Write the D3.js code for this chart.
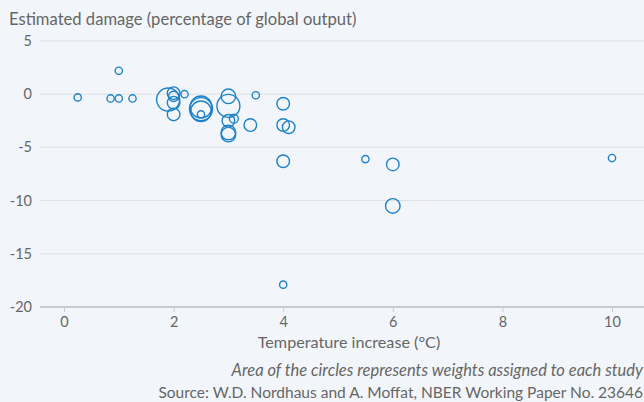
<!DOCTYPE html>
<html><head><meta charset="utf-8">
<script src="https://cdn.jsdelivr.net/npm/d3@7"></script>
<style>
html,body{margin:0;padding:0;background:#f2f6fa;}
svg{display:block;font-family:Lato,"Noto Sans",sans-serif;}
</style></head>
<body><svg id="c" width="644" height="402"></svg>
<script>
const temps   = [0.25,0.85,1.0,1.0,1.25,1.9,2.0,2.0,2.0,2.0,2.2,2.5,2.5,2.5,2.5,3.0,3.0,3.0,3.1,3.0,3.0,3.4,3.5,4.0,4.0,4.1,4.0,4.0,5.5,6.0,6.0,10.0];
const damages = [-0.3,-0.4,-0.4,2.2,-0.4,-0.5,0.1,-0.2,-0.8,-1.9,0.0,-1.2,-1.4,-1.6,-1.9,-0.2,-1.1,-2.5,-2.3,-3.6,-3.8,-2.9,-0.1,-0.9,-2.9,-3.1,-6.3,-17.9,-6.1,-6.6,-10.5,-6.0];
const weights = [1,1,1,1,1,10,3,2,3,3,1,9,10,8,1,4,10,3,1.5,4,4,3,1,3,3,3,3,1,1,3,4,1];
const xTicks = [0,2,4,6,8,10];
const yTicks = [5,0,-5,-10,-15,-20];

const svg = d3.select("#c");
const x = d3.scaleLinear().domain([0,10]).range([64,612]);
const y = d3.scaleLinear().domain([-20,5]).range([307,41]);
const r = d3.scaleSqrt().domain([0,10]).range([0,11.5]);
const txt = "#666";

svg.append("g").selectAll("line").data(yTicks.filter(d=>d!==-20)).join("line")
  .attr("x1",40).attr("x2",644).attr("y1",d=>y(d)).attr("y2",d=>y(d))
  .attr("stroke","#dcdfe3").attr("stroke-width",1);
svg.append("g").selectAll("text").data(yTicks).join("text")
  .attr("x",32).attr("y",d=>y(d)+5).attr("text-anchor","end")
  .attr("font-size",14.5).attr("fill",txt).text(d=>d);
const xa = svg.append("g").attr("transform","translate(0,307)")
  .call(d3.axisBottom(x).tickValues(xTicks).tickSize(5).tickPadding(5).tickFormat(d3.format("d")));
xa.select(".domain").remove();
xa.insert("line",":first-child").attr("x1",40).attr("x2",644).attr("stroke","#c8ccd0").attr("stroke-width",2);
xa.selectAll(".tick line").attr("stroke","#c8ccd0");
xa.selectAll(".tick text").attr("font-size",14.5).attr("fill",txt).attr("font-family","Lato,'Noto Sans',sans-serif");

const pts = temps.map((t,i)=>({t,d:damages[i],w:weights[i]}));
svg.append("g").selectAll("circle").data(pts).join("circle")
  .attr("cx",d=>x(d.t)).attr("cy",d=>y(d.d)).attr("r",d=>r(d.w))
  .attr("fill","none").attr("stroke","#1f82c6").attr("stroke-width",1.4);

svg.append("text").attr("x",9).attr("y",25).attr("font-size",16.6).attr("fill",txt)
  .text("Estimated damage (percentage of global output)");
svg.append("text").attr("x",349).attr("y",348).attr("text-anchor","middle").attr("font-size",16.2).attr("fill",txt)
  .text("Temperature increase (°C)");
svg.append("text").attr("x",643).attr("y",376).attr("text-anchor","end").attr("font-size",16.5).attr("font-style","italic").attr("fill",txt)
  .text("Area of the circles represents weights assigned to each study");
svg.append("text").attr("x",643).attr("y",398).attr("text-anchor","end").attr("font-size",15.5).attr("fill",txt)
  .text("Source: W.D. Nordhaus and A. Moffat, NBER Working Paper No. 23646");
</script></body></html>
